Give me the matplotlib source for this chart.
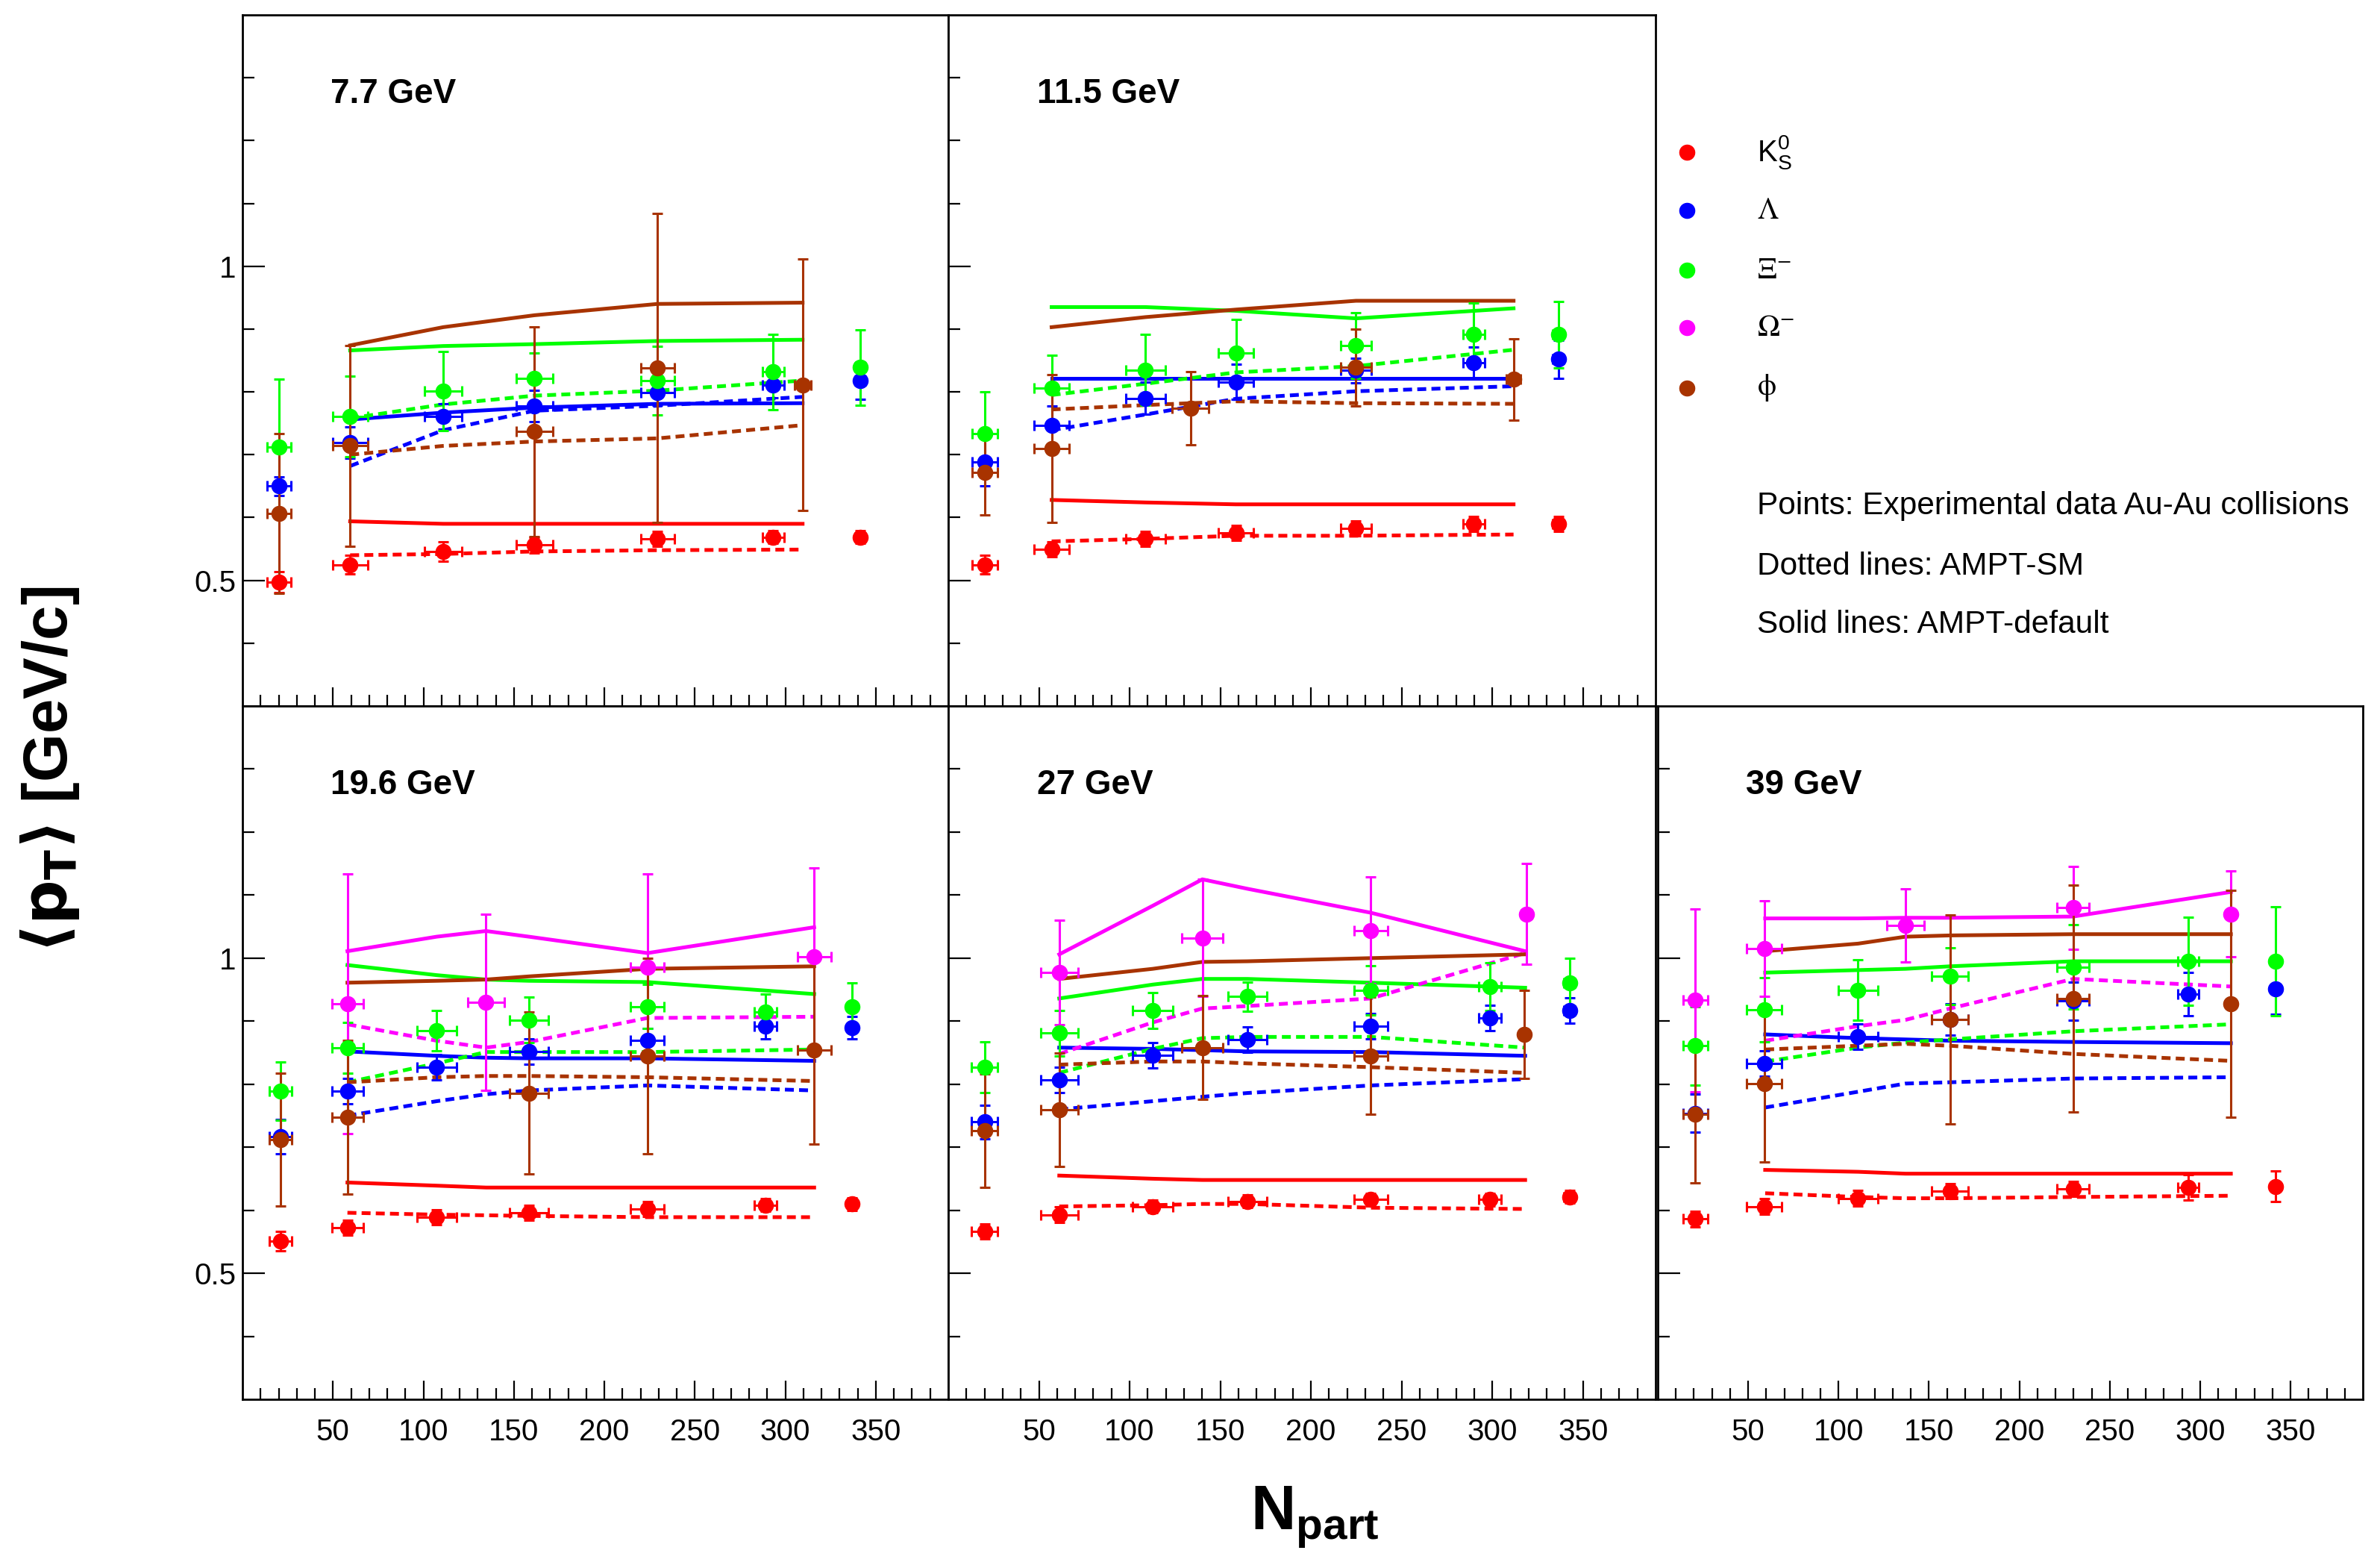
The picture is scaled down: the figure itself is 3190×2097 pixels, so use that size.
import matplotlib
matplotlib.use('Agg')
import matplotlib.pyplot as plt
from matplotlib.lines import Line2D
from matplotlib.ticker import FixedLocator, FuncFormatter

plt.rcParams['font.family'] = ['Liberation Sans', 'DejaVu Sans']
plt.rcParams['mathtext.fontset'] = 'custom'
plt.rcParams['mathtext.rm'] = 'Liberation Sans'
plt.rcParams['mathtext.it'] = 'Liberation Sans:italic'
plt.rcParams['mathtext.bf'] = 'Liberation Sans:bold'

# ---------------------------------------------------------------- data
SPECIES = ['K0S', 'LAM', 'XI', 'OM', 'PHI']
COLORS = {'K0S': '#ff0000', 'LAM': '#0000ff', 'XI': '#00ff00',
          'OM': '#ff00ff', 'PHI': '#a83300'}
LEGEND_LABELS = [r'$\mathrm{K^{0}_{S}}$', r'$\Lambda$', r'$\Xi^{-}$',
                 r'$\Omega^{-}$', r'$\mathrm{\phi}$']
ENERGY_LABELS = ['7.7 GeV', '11.5 GeV', '19.6 GeV', '27 GeV', '39 GeV']
NOTES = ['Points: Experimental data Au-Au collisions',
         'Dotted lines: AMPT-SM',
         'Solid lines: AMPT-default']
XTICKS = [50, 100, 150, 200, 250, 300, 350]
YTICKS = [0.5, 1.0]

# ---- 7.7 GeV : experimental points
X77 = [20.4, 59.5, 110.9, 161.4, 229.4, 293.3, 341.3]
XERR77 = [6.6, 9.7, 10.5, 10.0, 9.3, 6.0, 3.0]
K0S_77 = [0.497, 0.525, 0.546, 0.556, 0.566, 0.569, 0.569]
K0S_77_ERR = [0.017, 0.015, 0.015, 0.012, 0.012, 0.010, 0.010]
LAM_77 = [0.650, 0.719, 0.761, 0.778, 0.799, 0.811, 0.818]
LAM_77_ERR = [0.015, 0.025, 0.020, 0.025, 0.020, 0.020, 0.030]
XI_77 = [0.712, 0.761, 0.801, 0.822, 0.818, 0.832, 0.839]
XI_77_ERR = [0.108, 0.064, 0.063, 0.040, 0.055, 0.060, 0.060]
PHI_77_X = [20.4, 59.5, 161.4, 229.4, 309.5]
PHI_77_XERR = [6.6, 9.7, 10.0, 9.3, 4.5]
PHI_77 = [0.606, 0.714, 0.737, 0.838, 0.811]
PHI_77_ERR = [0.127, 0.160, 0.167, 0.246, 0.200]
# ---- 7.7 GeV : AMPT
M77_X = [59.5, 110.9, 161.4, 229.4, 309.5]
K0S_77_DEF = [0.594, 0.590, 0.590, 0.590, 0.590]
K0S_77_SM = [0.540, 0.542, 0.546, 0.548, 0.549]
LAM_77_DEF = [0.756, 0.767, 0.775, 0.781, 0.782]
LAM_77_SM = [0.682, 0.739, 0.770, 0.778, 0.792]
XI_77_DEF = [0.866, 0.873, 0.876, 0.881, 0.883]
XI_77_SM = [0.758, 0.780, 0.794, 0.802, 0.818]
PHI_77_DEF = [0.874, 0.903, 0.922, 0.940, 0.942]
PHI_77_SM = [0.700, 0.714, 0.721, 0.726, 0.747]

# ---- 11.5 GeV : experimental points
X115 = [20.0, 57.0, 108.7, 158.6, 224.8, 289.7, 336.4]
XERR115 = [7.0, 9.7, 10.9, 9.6, 8.5, 5.9, 3.0]
K0S_115 = [0.525, 0.549, 0.566, 0.576, 0.583, 0.590, 0.590]
K0S_115_ERR = [0.015, 0.012, 0.012, 0.012, 0.012, 0.012, 0.012]
LAM_115 = [0.689, 0.747, 0.790, 0.816, 0.834, 0.846, 0.852]
LAM_115_ERR = [0.039, 0.030, 0.026, 0.028, 0.020, 0.025, 0.030]
XI_115 = [0.733, 0.806, 0.835, 0.862, 0.874, 0.891, 0.891]
XI_115_ERR = [0.067, 0.052, 0.056, 0.053, 0.052, 0.050, 0.053]
PHI_115_X = [20.0, 57.0, 133.6, 224.8, 311.7]
PHI_115_XERR = [7.0, 9.7, 10.0, 8.5, 4.0]
PHI_115 = [0.672, 0.710, 0.774, 0.839, 0.820]
PHI_115_ERR = [0.068, 0.118, 0.058, 0.061, 0.065]
# ---- 11.5 GeV : AMPT
M115_X = [57.0, 108.7, 158.6, 224.8, 311.7]
K0S_115_DEF = [0.628, 0.624, 0.621, 0.621, 0.621]
K0S_115_SM = [0.562, 0.566, 0.571, 0.571, 0.573]
LAM_115_DEF = [0.822, 0.822, 0.822, 0.822, 0.822]
LAM_115_SM = [0.739, 0.764, 0.789, 0.801, 0.809]
XI_115_DEF = [0.935, 0.935, 0.929, 0.917, 0.933]
XI_115_SM = [0.795, 0.813, 0.831, 0.841, 0.867]
PHI_115_DEF = [0.903, 0.919, 0.931, 0.945, 0.945]
PHI_115_SM = [0.772, 0.779, 0.785, 0.782, 0.781]

# ---- 19.6 GeV : experimental points
X196 = [20.9, 58.0, 107.3, 158.3, 223.8, 289.0, 336.8]
XERR196 = [6.2, 8.7, 11.0, 10.8, 9.3, 6.2, 2.5]
K0S_196 = [0.551, 0.572, 0.589, 0.596, 0.602, 0.608, 0.610]
K0S_196_ERR = [0.015, 0.012, 0.012, 0.012, 0.012, 0.010, 0.010]
LAM_196 = [0.717, 0.789, 0.827, 0.852, 0.869, 0.892, 0.890]
LAM_196_ERR = [0.027, 0.020, 0.020, 0.020, 0.020, 0.020, 0.018]
XI_196 = [0.789, 0.858, 0.885, 0.902, 0.923, 0.915, 0.923]
XI_196_ERR = [0.046, 0.040, 0.032, 0.036, 0.035, 0.028, 0.038]
OM_196_X = [58.0, 134.6, 223.8, 315.9]
OM_196_XERR = [8.7, 10.0, 9.3, 9.3]
OM_196 = [0.927, 0.930, 0.985, 1.002]
OM_196_ERR = [0.206, 0.140, 0.148, 0.141]
PHI_196_X = [20.9, 58.0, 158.3, 223.8, 315.9]
PHI_196_XERR = [6.2, 8.7, 10.8, 9.3, 9.3]
PHI_196 = [0.712, 0.748, 0.786, 0.845, 0.854]
PHI_196_ERR = [0.105, 0.122, 0.129, 0.155, 0.149]
# ---- 19.6 GeV : AMPT
M196_X = [58.0, 107.3, 134.6, 158.3, 223.8, 315.9]
K0S_196_DEF = [0.644, 0.639, 0.636, 0.636, 0.636, 0.636]
K0S_196_SM = [0.596, 0.593, 0.592, 0.591, 0.589, 0.589]
LAM_196_DEF = [0.852, 0.845, 0.842, 0.841, 0.841, 0.837]
LAM_196_SM = [0.750, 0.773, 0.784, 0.790, 0.798, 0.790]
XI_196_DEF = [0.989, 0.973, 0.966, 0.964, 0.962, 0.943]
XI_196_SM = [0.803, 0.833, 0.851, 0.851, 0.851, 0.855]
OM_196_DEF = [1.011, 1.034, 1.043, 1.034, 1.008, 1.049]
OM_196_SM = [0.895, 0.869, 0.858, 0.867, 0.905, 0.907]
PHI_196_DEF = [0.961, 0.964, 0.966, 0.971, 0.983, 0.987]
PHI_196_SM = [0.803, 0.811, 0.813, 0.813, 0.811, 0.805]

# ---- 27 GeV : experimental points
X27 = [20.1, 61.2, 112.7, 165.0, 233.0, 298.7, 342.5]
XERR27 = [7.2, 10.2, 11.2, 10.6, 9.3, 6.2, 3.0]
K0S_27 = [0.566, 0.593, 0.606, 0.614, 0.617, 0.617, 0.621]
K0S_27_ERR = [0.012, 0.012, 0.010, 0.010, 0.010, 0.010, 0.010]
LAM_27 = [0.740, 0.807, 0.846, 0.871, 0.892, 0.905, 0.917]
LAM_27_ERR = [0.027, 0.020, 0.020, 0.020, 0.020, 0.020, 0.020]
XI_27 = [0.827, 0.881, 0.917, 0.939, 0.949, 0.955, 0.961]
XI_27_ERR = [0.040, 0.036, 0.028, 0.023, 0.039, 0.038, 0.039]
OM_27_X = [61.2, 140.1, 233.0, 318.9]
OM_27_XERR = [10.2, 11.2, 9.3, 3.0]
OM_27 = [0.977, 1.032, 1.044, 1.070]
OM_27_ERR = [0.083, 0.093, 0.085, 0.080]
PHI_27_X = [20.1, 61.2, 140.1, 233.0, 317.6]
PHI_27_XERR = [7.2, 10.2, 11.2, 9.3, 0.0]
PHI_27 = [0.726, 0.760, 0.858, 0.845, 0.879]
PHI_27_ERR = [0.090, 0.090, 0.082, 0.093, 0.070]
# ---- 27 GeV : AMPT
M27_X = [61.2, 112.7, 140.1, 165.0, 233.0, 318.1]
K0S_27_DEF = [0.655, 0.650, 0.648, 0.648, 0.648, 0.648]
K0S_27_SM = [0.606, 0.608, 0.610, 0.610, 0.604, 0.602]
LAM_27_DEF = [0.858, 0.856, 0.854, 0.852, 0.851, 0.845]
LAM_27_SM = [0.760, 0.773, 0.780, 0.786, 0.798, 0.808]
XI_27_DEF = [0.936, 0.958, 0.967, 0.967, 0.961, 0.953]
XI_27_SM = [0.818, 0.856, 0.873, 0.875, 0.875, 0.858]
OM_27_DEF = [1.006, 1.083, 1.125, 1.110, 1.072, 1.011]
OM_27_SM = [0.848, 0.898, 0.920, 0.924, 0.936, 1.008]
PHI_27_DEF = [0.967, 0.983, 0.994, 0.995, 1.000, 1.006]
PHI_27_SM = [0.831, 0.836, 0.836, 0.833, 0.827, 0.818]

# ---- 39 GeV : experimental points
X39 = [20.8, 58.9, 110.8, 161.6, 229.8, 293.3, 341.6]
XERR39 = [6.7, 9.7, 10.8, 10.2, 8.9, 5.7, 2.5]
K0S_39 = [0.586, 0.606, 0.619, 0.630, 0.634, 0.636, 0.638]
K0S_39_ERR = [0.012, 0.012, 0.012, 0.012, 0.012, 0.020, 0.024]
LAM_39 = [0.754, 0.833, 0.875, 0.903, 0.932, 0.943, 0.951]
LAM_39_ERR = [0.030, 0.020, 0.020, 0.025, 0.030, 0.034, 0.040]
XI_39 = [0.861, 0.918, 0.949, 0.971, 0.986, 0.995, 0.995]
XI_39_ERR = [0.062, 0.051, 0.048, 0.045, 0.067, 0.070, 0.086]
OM_39_X = [20.8, 58.9, 137.0, 229.8, 317.0]
OM_39_XERR = [6.7, 9.7, 10.5, 8.9, 0.0]
OM_39 = [0.933, 1.015, 1.052, 1.080, 1.070]
OM_39_ERR = [0.145, 0.076, 0.058, 0.066, 0.068]
PHI_39_X = [20.8, 58.9, 161.6, 229.8, 317.0]
PHI_39_XERR = [6.7, 9.7, 10.2, 8.9, 0.0]
PHI_39 = [0.752, 0.801, 0.903, 0.936, 0.927]
PHI_39_ERR = [0.109, 0.125, 0.166, 0.180, 0.180]
# ---- 39 GeV : AMPT
M39_X = [59.4, 110.8, 137.0, 161.6, 229.8, 317.0]
K0S_39_DEF = [0.664, 0.661, 0.658, 0.658, 0.658, 0.658]
K0S_39_SM = [0.627, 0.621, 0.619, 0.619, 0.621, 0.623]
LAM_39_DEF = [0.879, 0.873, 0.871, 0.869, 0.867, 0.865]
LAM_39_SM = [0.763, 0.788, 0.801, 0.803, 0.809, 0.811]
XI_39_DEF = [0.977, 0.981, 0.983, 0.987, 0.995, 0.995]
XI_39_SM = [0.836, 0.858, 0.866, 0.871, 0.884, 0.895]
OM_39_DEF = [1.063, 1.063, 1.064, 1.064, 1.066, 1.105]
OM_39_SM = [0.869, 0.892, 0.902, 0.920, 0.967, 0.955]
PHI_39_DEF = [1.011, 1.023, 1.034, 1.036, 1.038, 1.038]
PHI_39_SM = [0.855, 0.861, 0.864, 0.861, 0.848, 0.837]

# ---------------------------------------------------------------- panels
PANELS = [
    dict(label=ENERGY_LABELS[0],
         points=[('K0S', X77, K0S_77, XERR77, K0S_77_ERR),
                 ('LAM', X77, LAM_77, XERR77, LAM_77_ERR),
                 ('XI', X77, XI_77, XERR77, XI_77_ERR),
                 ('PHI', PHI_77_X, PHI_77, PHI_77_XERR, PHI_77_ERR)],
         mx=M77_X,
         models=[('K0S', K0S_77_DEF, K0S_77_SM), ('LAM', LAM_77_DEF, LAM_77_SM),
                 ('XI', XI_77_DEF, XI_77_SM), ('PHI', PHI_77_DEF, PHI_77_SM)]),
    dict(label=ENERGY_LABELS[1],
         points=[('K0S', X115, K0S_115, XERR115, K0S_115_ERR),
                 ('LAM', X115, LAM_115, XERR115, LAM_115_ERR),
                 ('XI', X115, XI_115, XERR115, XI_115_ERR),
                 ('PHI', PHI_115_X, PHI_115, PHI_115_XERR, PHI_115_ERR)],
         mx=M115_X,
         models=[('K0S', K0S_115_DEF, K0S_115_SM), ('LAM', LAM_115_DEF, LAM_115_SM),
                 ('XI', XI_115_DEF, XI_115_SM), ('PHI', PHI_115_DEF, PHI_115_SM)]),
    dict(label=ENERGY_LABELS[2],
         points=[('K0S', X196, K0S_196, XERR196, K0S_196_ERR),
                 ('LAM', X196, LAM_196, XERR196, LAM_196_ERR),
                 ('XI', X196, XI_196, XERR196, XI_196_ERR),
                 ('OM', OM_196_X, OM_196, OM_196_XERR, OM_196_ERR),
                 ('PHI', PHI_196_X, PHI_196, PHI_196_XERR, PHI_196_ERR)],
         mx=M196_X,
         models=[('K0S', K0S_196_DEF, K0S_196_SM), ('LAM', LAM_196_DEF, LAM_196_SM),
                 ('XI', XI_196_DEF, XI_196_SM), ('OM', OM_196_DEF, OM_196_SM),
                 ('PHI', PHI_196_DEF, PHI_196_SM)]),
    dict(label=ENERGY_LABELS[3],
         points=[('K0S', X27, K0S_27, XERR27, K0S_27_ERR),
                 ('LAM', X27, LAM_27, XERR27, LAM_27_ERR),
                 ('XI', X27, XI_27, XERR27, XI_27_ERR),
                 ('OM', OM_27_X, OM_27, OM_27_XERR, OM_27_ERR),
                 ('PHI', PHI_27_X, PHI_27, PHI_27_XERR, PHI_27_ERR)],
         mx=M27_X,
         models=[('K0S', K0S_27_DEF, K0S_27_SM), ('LAM', LAM_27_DEF, LAM_27_SM),
                 ('XI', XI_27_DEF, XI_27_SM), ('OM', OM_27_DEF, OM_27_SM),
                 ('PHI', PHI_27_DEF, PHI_27_SM)]),
    dict(label=ENERGY_LABELS[4],
         points=[('K0S', X39, K0S_39, XERR39, K0S_39_ERR),
                 ('LAM', X39, LAM_39, XERR39, LAM_39_ERR),
                 ('XI', X39, XI_39, XERR39, XI_39_ERR),
                 ('OM', OM_39_X, OM_39, OM_39_XERR, OM_39_ERR),
                 ('PHI', PHI_39_X, PHI_39, PHI_39_XERR, PHI_39_ERR)],
         mx=M39_X,
         models=[('K0S', K0S_39_DEF, K0S_39_SM), ('LAM', LAM_39_DEF, LAM_39_SM),
                 ('XI', XI_39_DEF, XI_39_SM), ('OM', OM_39_DEF, OM_39_SM),
                 ('PHI', PHI_39_DEF, PHI_39_SM)]),
]

# ---------------------------------------------------------------- figure
W, H = 3190, 2097
fig = plt.figure(figsize=(W / 100, H / 100), dpi=100)


def px_axes(l, t, r, b):
    return fig.add_axes([l / W, 1 - b / H, (r - l) / W, (b - t) / H])


BOXES = [(325, 20, 1271, 946), (1271, 20, 2219, 946),
         (325, 946, 1271, 1875), (1271, 946, 2219, 1875),
         (2222, 946, 3167, 1875)]
SHOW_Y = [True, False, True, False, False]
SHOW_X = [False, False, True, True, True]

DASH = (0, (2.4, 1.4))
for panel, box, sy, sx in zip(PANELS, BOXES, SHOW_Y, SHOW_X):
    ax = px_axes(*box)
    for key, mdef, msm in panel['models']:
        c = COLORS[key]
        ax.plot(panel['mx'], mdef, color=c, lw=3.6, zorder=2)
        ax.plot(panel['mx'], msm, color=c, lw=3.6, ls=DASH, zorder=2)
    for key, x, y, xe, ye in panel['points']:
        c = COLORS[key]
        ax.errorbar(x, y, xerr=xe, yerr=ye, fmt='o', color=c, ms=14.5,
                    elinewidth=2.2, capsize=5, capthick=2.2, zorder=3)
    ax.set_xlim(0, 390)
    ax.set_ylim(0.3, 1.4)
    ax.xaxis.set_major_locator(FixedLocator(XTICKS))
    ax.xaxis.set_minor_locator(FixedLocator([v for v in range(10, 390, 10) if v % 50]))
    ax.yaxis.set_major_locator(FixedLocator(YTICKS))
    ax.yaxis.set_minor_locator(FixedLocator([0.4, 0.6, 0.7, 0.8, 0.9, 1.1, 1.2, 1.3]))
    ax.yaxis.set_major_formatter(FuncFormatter(lambda v, p: '1' if abs(v - 1) < 1e-6 else '0.5'))
    ax.tick_params(axis='x', which='major', direction='in', length=18, width=1.6,
                   top=False, pad=18, labelsize=29, labelbottom=sx)
    ax.tick_params(axis='x', which='minor', direction='in', length=10.5, width=1.6, top=False)
    ax.tick_params(axis='y', which='major', direction='in', length=21.6, width=1.6,
                   right=False, pad=6, labelsize=29, labelleft=sy)
    ax.tick_params(axis='y', which='minor', direction='in', length=11.5, width=1.6, right=False)
    for s in ax.spines.values():
        s.set_linewidth(2.0)
    ax.text(0.125, 0.873, panel['label'], transform=ax.transAxes, fontsize=33,
            fontweight='bold', ha='left', va='baseline')

# axis titles
fig.text(0.021, 0.508, r'$\mathbf{\langle p_{T}\rangle}$ [GeV/c]', rotation=90,
         fontsize=60, fontweight='bold', ha='center', va='center',
         math_fontfamily='dejavusans')
fig.text(1762 / W, 1 - 2050 / H, r'$\mathbf{N_{part}}$', fontsize=60,
         ha='center', va='baseline')

# legend
LEG_Y = [204, 282, 362, 439, 520]
for key, lab, yy in zip(SPECIES, LEGEND_LABELS, LEG_Y):
    fig.add_artist(Line2D([2261 / W], [1 - yy / H], transform=fig.transFigure,
                          marker='o', ms=14.5, color=COLORS[key], ls='none'))
    mf = 'custom' if key == 'K0S' else 'stix'
    fig.text(2355 / W, 1 - yy / H, lab, fontsize=29, ha='left', va='center',
             math_fontfamily=mf)
NOTE_Y = [689, 770, 848]
for t, yy in zip(NOTES, NOTE_Y):
    fig.text(2355 / W, 1 - yy / H, t, fontsize=30.5, ha='left', va='baseline')

fig.savefig('out.png', dpi=100)
